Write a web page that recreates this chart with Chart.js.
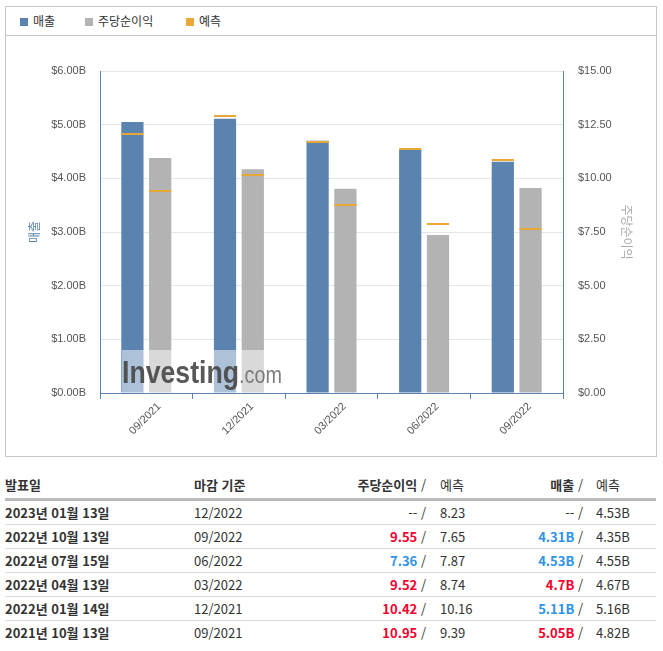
<!DOCTYPE html>
<html lang="ko">
<head>
    <meta charset="UTF-8">
    <title>매출 / 주당순이익</title>
    <script src="https://cdn.jsdelivr.net/npm/chart.js"></script>
    <style>
        body {
            margin: 0;
            background: #fff;
            font-family: "Noto Sans CJK KR", "Noto Sans", Arial, sans-serif;
            color: #333;
        }
        #box {
            position: absolute;
            left: 5px;
            top: 6px;
            width: 650px;
            height: 449px;
            border: 1px solid #c8c8c8;
        }
        #legend {
            position: relative;
            height: 28px;
            border-bottom: 1px solid #c8c8c8;
            font-size: 12px;
        }
        .item {
            position: absolute;
            top: 6px;
            line-height: 16px;
            white-space: nowrap;
        }
        .item span.sq {
            display: inline-block;
            width: 8px;
            height: 8px;
            margin-right: 5px;
            vertical-align: 0px;
        }
        #wrap {
            position: relative;
            width: 650px;
            height: 420px;
        }
        #tbl {
            position: absolute;
            left: 5px;
            top: 471px;
            width: 651px;
            font-size: 13px;
        }
        .row {
            display: flex;
            height: 23px;
            line-height: 23px;
            border-bottom: 1px solid #ddd;
            white-space: nowrap;
        }
        .row.head {
            height: 27px;
            line-height: 27px;
            border-bottom: 3px solid #bbb;
        }
        .row:last-child { border-bottom: none; }
        .c1 { width: 189px; font-weight: bold; }
        .c2 { width: 150px; }
        .c3 { width: 82px; text-align: right; }
        .c4 { width: 66px; padding-left: 14px; }
        .c5 { width: 77px; text-align: right; }
        .c6 { padding-left: 13px; }
        .head .c1, .head .c2, .head b { font-weight: 700; }
        .up { color: #f5002d; font-weight: bold; }
        .dn { color: #2f93e8; font-weight: bold; }
    </style>
</head>
<body>
    <div id="box">
        <div id="legend">
            <div class="item" style="left:14px"><span class="sq" style="background:#5b83b0"></span>매출</div>
            <div class="item" style="left:79px"><span class="sq" style="background:#b3b3b3"></span>주당순이익</div>
            <div class="item" style="left:180px"><span class="sq" style="background:#e8a838"></span>예측</div>
        </div>
        <div id="wrap"><canvas id="grafico"></canvas></div>
    </div>

    <div id="tbl"></div>

    <script>
        // dados do gráfico (oldest -> newest)
        const periodos = ["09/2021", "12/2021", "03/2022", "06/2022", "09/2022"];
        const receita = [5.05, 5.11, 4.70, 4.53, 4.31];
        const receitaPrev = [4.82, 5.16, 4.67, 4.55, 4.35];
        const lpa = [10.95, 10.42, 9.52, 7.36, 9.55];
        const lpaPrev = [9.39, 10.16, 8.74, 7.87, 7.65];

        // tabela (newest first)
        const datas = ["2023년 01월 13일", "2022년 10월 13일", "2022년 07월 15일", "2022년 04월 13일", "2022년 01월 14일", "2021년 10월 13일"];
        const fechamento = ["12/2022", "09/2022", "06/2022", "03/2022", "12/2021", "09/2021"];
        const tLpa = ["--", "9.55", "7.36", "9.52", "10.42", "10.95"];
        const tLpaPrev = ["8.23", "7.65", "7.87", "8.74", "10.16", "9.39"];
        const tRec = ["--", "4.31B", "4.53B", "4.7B", "5.11B", "5.05B"];
        const tRecPrev = ["4.53B", "4.35B", "4.55B", "4.67B", "5.16B", "4.82B"];

        const AZUL = '#5b83b0';
        const CINZA = '#b3b3b3';
        const LARANJA = '#e8a838';

        function montarTabela() {
            let html = '<div class="row head"><div class="c1">발표일</div><div class="c2">마감 기준</div>' +
                '<div class="c3"><b>주당순이익</b> /</div><div class="c4">예측</div>' +
                '<div class="c5"><b>매출</b> /</div><div class="c6">예측</div></div>';
            for (let i = 0; i < datas.length; i++) {
                const cls = (a, p) => a === '--' ? '' : (parseFloat(a) >= parseFloat(p) ? 'up' : 'dn');
                html += '<div class="row"><div class="c1">' + datas[i] + '</div><div class="c2">' + fechamento[i] + '</div>' +
                    '<div class="c3"><span class="' + cls(tLpa[i], tLpaPrev[i]) + '">' + tLpa[i] + '</span> /</div>' +
                    '<div class="c4">' + tLpaPrev[i] + '</div>' +
                    '<div class="c5"><span class="' + cls(tRec[i], tRecPrev[i]) + '">' + tRec[i] + '</span> /</div>' +
                    '<div class="c6">' + tRecPrev[i] + '</div></div>';
            }
            document.getElementById('tbl').innerHTML = html;
        }

        // marcas de previsão sobre cada barra
        const previsaoPlugin = {
            id: 'previsao',
            afterDatasetsDraw(chart) {
                const ctx = chart.ctx;
                const prevs = [receitaPrev, lpaPrev];
                ctx.save();
                ctx.fillStyle = LARANJA;
                chart.data.datasets.forEach((ds, i) => {
                    const meta = chart.getDatasetMeta(i);
                    const escala = chart.scales[ds.yAxisID];
                    meta.data.forEach((bar, j) => {
                        const y = escala.getPixelForValue(prevs[i][j]);
                        ctx.fillRect(bar.x - bar.width / 2, Math.round(y) - 1, bar.width, 2);
                    });
                });
                ctx.restore();
            }
        };

        // marca d'água
        const marcaPlugin = {
            id: 'marca',
            afterDatasetsDraw(chart) {
                const ctx = chart.ctx;
                const a = chart.chartArea;
                const x0 = a.left + 22, y0 = a.bottom - 43;
                ctx.save();
                ctx.fillStyle = 'rgba(255,255,255,0.5)';
                ctx.fillRect(x0, y0, 160, 43);
                ctx.textBaseline = 'alphabetic';
                ctx.translate(x0, y0 + 33);
                ctx.scale(0.86, 1);
                ctx.font = 'bold 31px Arial, "Liberation Sans"';
                ctx.fillStyle = 'rgba(70,70,70,0.9)';
                ctx.fillText('Investing', 0, 0);
                const w = ctx.measureText('Investing').width;
                ctx.font = '23px Arial, "Liberation Sans"';
                ctx.fillStyle = 'rgba(110,110,110,0.9)';
                ctx.fillText('.com', w, 0);
                ctx.restore();
            }
        };

        function renderGrafico() {
            const ctx = document.getElementById('grafico').getContext('2d');
            const fonteTick = { family: 'Arial, "Liberation Sans"', size: 11 };
            new Chart(ctx, {
                type: 'bar',
                data: {
                    labels: periodos,
                    datasets: [
                        { label: '매출', data: receita, backgroundColor: AZUL, yAxisID: 'y', barPercentage: 0.8, categoryPercentage: 0.6 },
                        { label: '주당순이익', data: lpa, backgroundColor: CINZA, yAxisID: 'y1', barPercentage: 0.8, categoryPercentage: 0.6 }
                    ]
                },
                options: {
                    responsive: true,
                    maintainAspectRatio: false,
                    animation: false,
                    layout: { padding: { top: 35, left: 0, right: 0, bottom: 0 } },
                    plugins: { legend: { display: false }, tooltip: { enabled: false } },
                    scales: {
                        x: {
                            grid: { offset: true, drawOnChartArea: false, color: AZUL, tickLength: 6 },
                            border: { color: AZUL },
                            ticks: { minRotation: 45, maxRotation: 45, color: '#555', font: fonteTick, padding: 1, labelOffset: 13 },
                            afterFit(s) { s.height = 63; }
                        },
                        y: {
                            position: 'left',
                            min: 0, max: 6,
                            grid: { color: '#e6e6e6', drawTicks: false },
                            border: { color: AZUL },
                            ticks: { stepSize: 1, padding: 14, color: '#555', font: fonteTick,
                                callback: v => '$' + v.toFixed(2) + 'B' },
                            title: { display: true, text: '매출', color: AZUL,
                                font: { family: '"Noto Sans CJK KR"', size: 12 }, padding: { top: 21, bottom: 0 } },
                            afterFit(s) { s.width = 94; }
                        },
                        y1: {
                            position: 'right',
                            min: 0, max: 15,
                            grid: { drawOnChartArea: false, drawTicks: false },
                            border: { color: AZUL },
                            ticks: { stepSize: 2.5, padding: 15, color: '#555', font: fonteTick,
                                callback: v => '$' + v.toFixed(2) },
                            title: { display: true, text: '주당순이익', color: '#aaa',
                                font: { family: '"Noto Sans CJK KR"', size: 12 }, padding: { top: 22, bottom: 0 } },
                            afterFit(s) { s.width = 93; }
                        }
                    }
                },
                plugins: [previsaoPlugin, marcaPlugin]
            });
        }

        window.onload = () => {
            montarTabela();
            renderGrafico();
        };
    </script>
</body>
</html>
